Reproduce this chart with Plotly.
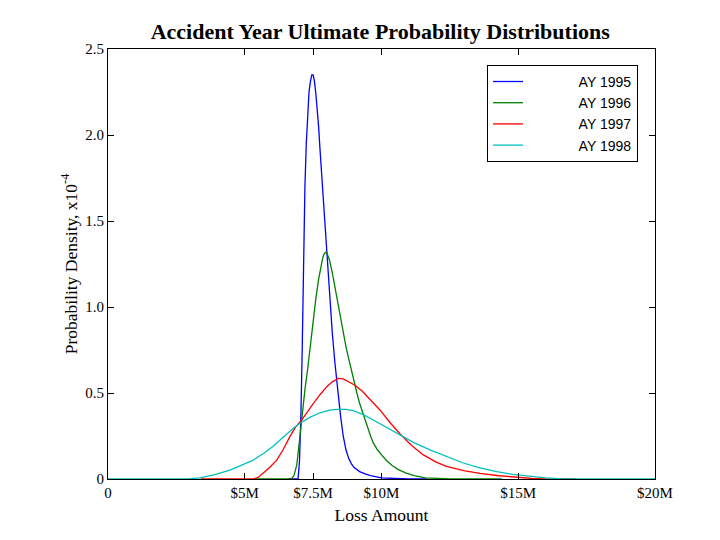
"""
Accident year ultimate probability distributions
"""
import plotly.graph_objects as go

# loss amount in $M, density in units of 1e-4
ay1995_x = [6.6, 6.95, 7.0, 7.05, 7.1, 7.15, 7.2, 7.25, 7.3, 7.35, 7.4, 7.45, 7.5, 7.55,
            7.6, 7.65, 7.7, 7.75, 7.8, 7.9, 8.0, 8.1, 8.2, 8.3, 8.4, 8.5, 8.6, 8.7, 8.8,
            8.9, 9.0, 9.2, 9.4, 9.6, 10.0, 10.5, 11.0, 11.7]
ay1995_y = [0, 0, 0.1, 0.35, 0.75, 1.3, 1.7, 1.95, 2.15, 2.25, 2.31, 2.35, 2.35, 2.31,
            2.24, 2.16, 2.05, 1.92, 1.8, 1.55, 1.27, 1.05, 0.85, 0.67, 0.51, 0.37, 0.25, 0.17, 0.12,
            0.088, 0.066, 0.043, 0.03, 0.02, 0.006, 0.001, 0, 0]

ay1996_x = [5.4, 6.7, 6.8, 6.9, 7.0, 7.1, 7.2, 7.3, 7.4, 7.5, 7.6, 7.7, 7.8, 7.85, 7.9, 7.95,
            8.0, 8.05, 8.1, 8.2, 8.3, 8.4, 8.5, 8.6, 8.7, 8.8, 8.9, 9.0, 9.1, 9.2, 9.3, 9.4,
            9.5, 9.6, 9.7, 9.85, 10.0, 10.2, 10.4, 10.6, 10.9, 11.2, 11.6, 12.0, 12.5, 14.4]
ay1996_y = [0, 0, 0.02, 0.08, 0.22, 0.38, 0.52, 0.64, 0.78, 0.92, 1.05, 1.16, 1.25, 1.285, 1.308, 1.318,
            1.315, 1.298, 1.272, 1.2, 1.11, 1.02, 0.93, 0.85, 0.77, 0.7, 0.63, 0.56, 0.5, 0.44, 0.39, 0.34,
            0.29, 0.25, 0.21, 0.17, 0.14, 0.105, 0.077, 0.056, 0.034, 0.019, 0.007, 0.002, 0, 0]

ay1997_x = [3.4, 5.3, 5.5, 5.68, 5.9, 6.17, 6.4, 6.65, 6.85, 7.08, 7.3, 7.51, 7.75, 8.0,
            8.2, 8.42, 8.6, 8.8, 9.03, 9.3, 9.6, 9.95, 10.3, 10.68, 11.1, 11.53, 12.0,
            12.38, 13.0, 13.6, 14.3, 14.94, 15.5, 16.0, 17.1]
ay1997_y = [0, 0, 0.01, 0.033, 0.065, 0.11, 0.17, 0.246, 0.3, 0.343, 0.395, 0.44, 0.49, 0.537,
            0.565, 0.585, 0.582, 0.567, 0.545, 0.51, 0.46, 0.4, 0.33, 0.262, 0.195, 0.14, 0.098,
            0.074, 0.049, 0.033, 0.019, 0.01, 0.003, 0, 0]

ay1998_x = [0, 2.6, 3.0, 3.36, 3.9, 4.46, 4.9, 5.31, 5.7, 6.04, 6.3, 6.53, 6.8, 7.02, 7.4,
            7.75, 8.1, 8.4, 8.7, 8.97, 9.33, 9.7, 10.2, 10.68, 11.2, 11.77, 12.4, 12.99,
            13.6, 14.21, 14.8, 15.43, 16.0, 16.6, 17.0, 20.0]
ay1998_y = [0, 0, 0.002, 0.006, 0.025, 0.052, 0.08, 0.11, 0.15, 0.19, 0.228, 0.262, 0.298, 0.324, 0.36,
            0.385, 0.4, 0.405, 0.405, 0.397, 0.374, 0.343, 0.3, 0.256, 0.21, 0.169, 0.128, 0.093,
            0.065, 0.043, 0.027, 0.014, 0.006, 0.001, 0, 0]

x_ticks = [0, 5, 7.5, 10, 15, 20]
x_tick_labels = ['0', '$5M', '$7.5M', '$10M', '$15M', '$20M']
y_ticks = [0, 0.5, 1.0, 1.5, 2.0, 2.5]
y_tick_labels = ['0', '0.5', '1.0', '1.5', '2.0', '2.5']

series = [
    ('AY 1995', ay1995_x, ay1995_y, '#0000ff'),
    ('AY 1996', ay1996_x, ay1996_y, '#008000'),
    ('AY 1997', ay1997_x, ay1997_y, '#ff0000'),
    ('AY 1998', ay1998_x, ay1998_y, '#00bfbf'),
]

serif = 'Liberation Serif, Times New Roman, serif'
sans = 'Liberation Sans, Arial, sans-serif'

fig = go.Figure()
for name, xs, ys, color in series:
    # leading non-breaking spaces widen the legend box like the original
    fig.add_trace(go.Scatter(x=xs, y=ys, mode='lines',
                             name='\u00a0' * 13 + name,
                             line=dict(color=color, width=1.3)))

axis_common = dict(showline=True, linecolor='black', linewidth=1, mirror='ticks',
                   ticks='inside', ticklen=6, tickcolor='black', showgrid=False,
                   zeroline=False, tickfont=dict(family=serif, size=15, color='black'))

# the page adds an 8px body margin, so the margins are offset by it
fig.update_layout(
    width=720, height=540,
    margin=dict(l=100, r=73, t=41, b=69),
    paper_bgcolor='white', plot_bgcolor='white',
    title=dict(text='<b>Accident Year Ultimate Probability Distributions</b>',
               x=0.517, xanchor='center', y=0.956, yanchor='middle',
               font=dict(family=serif, size=22, color='black')),
    xaxis=dict(range=[0, 20], tickvals=x_ticks, ticktext=x_tick_labels,
               title=dict(text='Loss Amount', standoff=8,
                          font=dict(family=serif, size=17.5, color='black')),
               **axis_common),
    yaxis=dict(range=[0, 2.5], tickvals=y_ticks, ticktext=y_tick_labels,
               title=dict(text='Probability Density, x10<sup>-4</sup>', standoff=3,
                          font=dict(family=serif, size=17.5, color='black')),
               **axis_common),
    legend=dict(x=0.969, y=0.963, xanchor='right', yanchor='top',
                bgcolor='white', bordercolor='black', borderwidth=1,
                font=dict(family=sans, size=14, color='black'),
                tracegroupgap=0),
    showlegend=True,
)

fig.write_html("out.html")
